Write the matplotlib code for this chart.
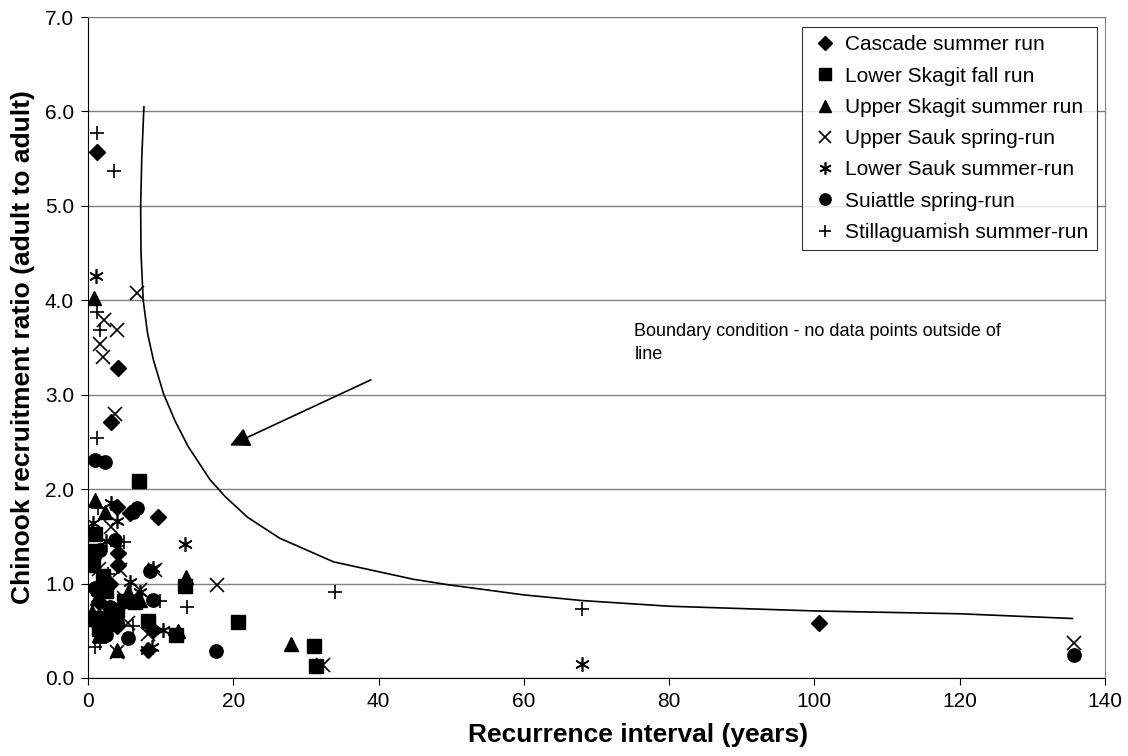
import matplotlib
matplotlib.use("Agg")
import matplotlib.pyplot as plt

plt.rcParams['font.family'] = ['Liberation Sans', 'DejaVu Sans']

# data
cascade_x = [1.2, 4.1, 3.2, 3.95, 9.6, 5.8, 4.2, 4.2, 3.0, 2.0, 1.5, 2.5, 4.0, 9.0, 8.3, 100.6]
cascade_y = [5.57, 3.28, 2.71, 1.81, 1.70, 1.75, 1.32, 1.20, 1.00, 0.92, 0.80, 0.62, 0.55, 0.51, 0.30, 0.58]

lskagit_x = [7.0, 1.0, 0.7, 2.0, 1.3, 2.5, 4.0, 5.0, 3.5, 1.5, 8.3, 13.4, 12.1, 20.6, 31.1, 31.4, 0.8, 6.5]
lskagit_y = [2.09, 1.53, 1.20, 1.08, 0.62, 0.92, 0.72, 0.82, 0.57, 0.52, 0.60, 0.97, 0.46, 0.59, 0.34, 0.13, 1.35, 0.80]

uskagit_x = [0.8, 1.0, 2.4, 0.5, 1.2, 2.0, 3.0, 5.5, 7.2, 13.5, 12.4, 28.0, 4.0, 1.5, 0.6]
uskagit_y = [4.02, 1.88, 1.76, 0.62, 0.85, 1.00, 0.75, 0.91, 0.83, 1.07, 0.50, 0.36, 0.30, 0.45, 0.70]

usauk_x = [6.7, 2.25, 3.95, 1.65, 2.1, 3.7, 3.2, 4.4, 9.2, 7.2, 17.7, 5.5, 8.3, 3.95, 2.5, 1.5, 32.4, 135.8, 5.0]
usauk_y = [4.08, 3.79, 3.68, 3.54, 3.40, 2.80, 1.60, 1.14, 1.14, 0.93, 0.98, 0.58, 0.47, 0.28, 0.70, 1.15, 0.14, 0.37, 0.85]

lsauk_x = [1.1, 0.7, 3.2, 3.95, 13.4, 5.8, 7.2, 9.0, 10.3, 8.8, 8.1, 68.0, 2.5, 1.2, 4.2]
lsauk_y = [4.26, 1.64, 1.85, 1.66, 1.42, 1.02, 0.91, 1.17, 0.51, 0.33, 0.30, 0.15, 1.45, 0.85, 0.62]

suiattle_x = [0.96, 2.34, 6.2, 6.8, 3.7, 1.65, 0.5, 8.5, 9.0, 5.5, 17.6, 135.8, 2.0, 1.0, 3.0, 2.5, 4.0, 1.5]
suiattle_y = [2.31, 2.29, 1.76, 1.80, 1.46, 1.36, 1.25, 1.13, 0.83, 0.42, 0.29, 0.24, 1.05, 0.95, 0.75, 0.45, 0.58, 0.65]

stilly_x = [1.2, 3.6, 1.3, 1.65, 1.3, 1.4, 4.9, 0.5, 6.5, 9.9, 13.6, 6.2, 1.65, 34.0, 68.0, 1.0, 2.8, 4.0, 12.0]
stilly_y = [5.77, 5.37, 3.88, 3.69, 2.54, 1.80, 1.44, 1.58, 0.79, 0.81, 0.75, 0.55, 0.37, 0.91, 0.73, 0.33, 1.10, 1.40, 0.45]

# boundary line
curve_x = [7.7, 7.4, 7.25, 7.3, 7.6, 8.2, 9.0, 10.4, 12.0, 13.8, 16.8, 18.9, 22.0, 26.4,
           33.8, 44.8, 49.8, 60.0, 68.0, 80.0, 100.0, 120.0, 135.5]
curve_y = [6.05, 5.5, 5.0, 4.5, 4.0, 3.65, 3.37, 3.01, 2.72, 2.45, 2.10, 1.92, 1.70, 1.48,
           1.23, 1.045, 0.985, 0.88, 0.82, 0.76, 0.71, 0.68, 0.63]

fig = plt.figure(figsize=(11.28, 7.56), dpi=100)
ax = fig.add_axes([0.078, 0.1032, 0.9016, 0.8743])

ax.set_xlim(0, 140)
ax.set_ylim(0, 7)
ax.set_yticks([0, 1, 2, 3, 4, 5, 6, 7])
ax.set_yticklabels(['%.1f' % v for v in range(8)])
ax.set_xticks([0, 20, 40, 60, 80, 100, 120, 140])
ax.yaxis.grid(True, color='#808080', lw=1.0)
ax.set_axisbelow(True)
ax.tick_params(direction='out', length=5, labelsize=15, color='black', pad=5)
for s in ['top', 'right']:
    ax.spines[s].set_color('#808080')
for s in ['left', 'bottom']:
    ax.spines[s].set_color('black')

ax.plot(curve_x, curve_y, color='black', lw=1.2, zorder=2)

k = dict(color='black', ls='none', zorder=3)
ax.plot(cascade_x, cascade_y, marker='D', ms=8, label='Cascade summer run', **k)
ax.plot(lskagit_x, lskagit_y, marker='s', ms=9.5, label='Lower Skagit fall run', **k)
ax.plot(uskagit_x, uskagit_y, marker='^', ms=9.6, label='Upper Skagit summer run', **k)
ax.plot(usauk_x, usauk_y, marker='x', ms=9.6, mew=1.2, label='Upper Sauk spring-run', **k)
ax.plot(lsauk_x, lsauk_y, marker=(6, 2, 0), ms=10.5, mew=1.2, label='Lower Sauk summer-run', **k)
ax.plot(suiattle_x, suiattle_y, marker='o', ms=9.6, label='Suiattle spring-run', **k)
ax.plot(stilly_x, stilly_y, marker='+', ms=10, mew=1.2, label='Stillaguamish summer-run', **k)

ax.annotate('', xy=(19.2, 2.45), xytext=(39.3, 3.17),
            arrowprops=dict(arrowstyle='-|>', color='black', lw=1.2, mutation_scale=30))
ax.text(75.2, 3.55, 'Boundary condition - no data points outside of\nline', fontsize=13,
        ha='left', va='center', linespacing=1.5)

leg = ax.legend(loc='upper right', bbox_to_anchor=(0.992, 0.985), borderaxespad=0,
                fontsize=15, frameon=True, fancybox=False, edgecolor='black',
                handlelength=1.5, handletextpad=0.2, labelspacing=0.59, markerscale=0.85)
leg.get_frame().set_linewidth(0.8)

fig.text(0.5656, 0.028, 'Recurrence interval (years)', fontsize=19, fontweight='bold', ha='center', va='center')
fig.text(0.02, 0.5405, 'Chinook recruitment ratio (adult to adult)', fontsize=19, fontweight='bold',
         ha='center', va='center', rotation=90)

fig.savefig('out.png', dpi=100)
